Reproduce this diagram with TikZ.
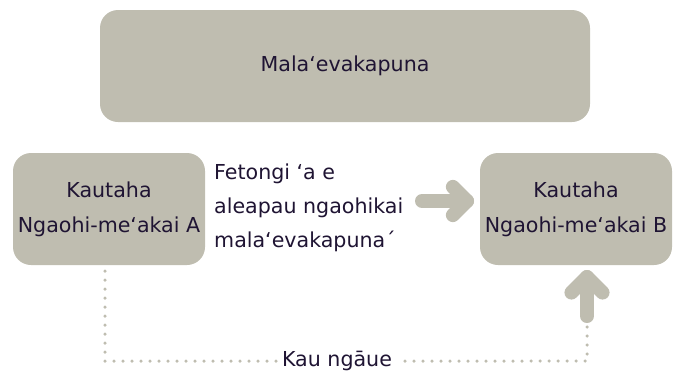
\documentclass[tikz,border=0pt]{standalone}
\usepackage{fontspec}
\setmainfont{DejaVu Sans}
\usepackage{tikz}
\usetikzlibrary{calc}
\definecolor{boxgray}{HTML}{BFBDB0}
\definecolor{inkpurple}{HTML}{1F1433}
\tikzset{
  box/.style={rectangle, rounded corners=18pt, fill=boxgray, draw=none, text=inkpurple, align=center, font=\fontsize{20.6}{35}\selectfont},
  plain/.style={text=inkpurple, align=left, font=\fontsize{20.6}{34}\selectfont, inner sep=0pt},
  fatline/.style={draw=boxgray, line width=14pt, line cap=round, line join=round},
  dotline/.style={draw=boxgray, line width=3.5pt, line cap=round, dash pattern=on 0pt off 9pt}
}
\newcommand{\fatarrow}[4]{\draw[fatline] (#1) -- (#2); \draw[fatline] ($(#2)+(#3+135:#4)$) -- (#2) -- ($(#2)+(#3-135:#4)$);}
\begin{document}
\begin{tikzpicture}[x=1pt, y=-1pt]
        \useasboundingbox (0,0) rectangle (680,370);
        \node[box, minimum width=490pt, minimum height=112pt] (mala) at (345,66) {Mala‘evakapuna};
        \node[box, minimum width=192pt, minimum height=112pt] (kautahaA) at (109,209) {Kautaha\\Ngaohi-me‘akai A};
        \node[box, minimum width=192pt, minimum height=112pt] (kautahaB) at (576,209) {Kautaha\\Ngaohi-me‘akai B};
        \node[plain, anchor=west] (fetongi) at (214,208) {Fetongi ‘a e\\aleapau ngaohikai\\mala‘evakapuna´};
        \node[plain, fill=white, inner sep=4pt] (kau) at (337,361) {Kau ngāue};

        \coordinate (rtail) at (422,201);
        \coordinate (rtip) at (467,201);
        \coordinate (ufoot) at (587,316);
        \coordinate (utip) at (587,277);
        \coordinate (dotA) at (105,271);
        \coordinate (dotB) at (587,327);

        \fatarrow{rtail}{rtip}{0}{20}
        \fatarrow{ufoot}{utip}{270}{22}

        \draw[dotline] (dotA) |- (kau.west);
        \draw[dotline] (dotB) |- (kau.east);
\end{tikzpicture}
\end{document}
